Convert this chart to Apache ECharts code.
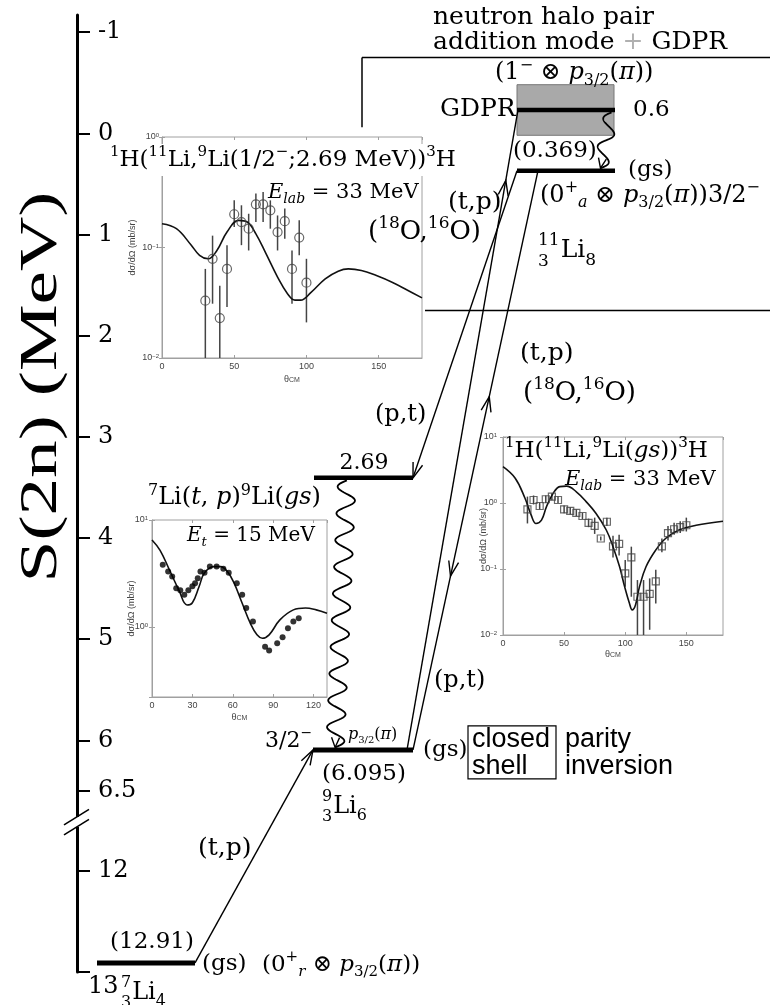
<!DOCTYPE html>
<html>
<head>
<meta charset="utf-8">
<title>S(2n) level scheme: 7Li, 9Li, 11Li</title>
<script src="https://cdn.jsdelivr.net/npm/echarts@6.0.0/dist/echarts.min.js"></script>
<style>
  html, body { margin: 0; padding: 0; background: #fff; }
  #chart { width: 770px; height: 1005px; }
</style>
</head>
<body>
<div id="chart"></div>
<script>
const SERIF = '"DejaVu Serif", serif';
const TITLE_SERIF = '"Liberation Serif", serif';
const SANS = '"Liberation Sans", Arial, sans-serif';

// ---------------- S(2n) axis ----------------
const axisTicks = [-1, 0, 1, 2, 3, 4, 5, 6, 6.5, 12, 13];
const axisTickLabels = ['-1', '0', '1', '2', '3', '4', '5', '6', '6.5', '12', '13'];

// ---------------- levels, S(2n) in MeV ----------------
const levelNames = ['li7', 'li9', 'li9x', 'li11', 'gdpr'];
const levelS2n = [12.91, 6.095, 3.405, 0.369, -0.231];   // 3.405 = 6.095 - 2.69, -0.231 = 0.369 - 0.6
const gdprWidth = 0.5;

// ---------------- 1H(11Li,9Li(1/2-;2.69 MeV))3H ----------------
const thetaA = [0, 10, 20, 26, 32, 38, 45, 53, 59, 65, 72, 80, 87, 92, 96, 103, 113, 122, 129, 138, 148, 160, 170, 180];
const sigmaA = [0.164, 0.148, 0.106, 0.085, 0.079, 0.094, 0.138, 0.176, 0.170, 0.133, 0.088, 0.054, 0.038, 0.0334, 0.0334, 0.039, 0.052, 0.061, 0.064, 0.062, 0.056, 0.048, 0.041, 0.035];
const thetaAexp = [30, 35, 40, 45, 50, 55, 60, 65, 70, 75, 80, 85, 90, 95, 100];
const sigmaAexp = [0.033, 0.079, 0.023, 0.064, 0.200, 0.170, 0.148, 0.246, 0.246, 0.217, 0.138, 0.173, 0.064, 0.123, 0.048];
const sigmaAlo  = [0.005, 0.031, 0.005, 0.029, 0.153, 0.105, 0.094, 0.170, 0.170, 0.148, 0.094, 0.120, 0.031, 0.085, 0.021];
const sigmaAhi  = [0.064, 0.128, 0.045, 0.105, 0.267, 0.241, 0.202, 0.308, 0.318, 0.267, 0.195, 0.225, 0.094, 0.176, 0.079];

// ---------------- 7Li(t,p)9Li(gs) ----------------
const thetaB = [0, 6, 13, 20, 26, 30, 35, 39, 46, 51, 56, 61, 67, 73, 78, 82, 87, 95, 105, 114, 122, 130];
const sigmaB = [6.5, 5.2, 3.4, 2.2, 1.6, 1.68, 2.38, 3.2, 3.66, 3.66, 3.29, 2.56, 1.66, 1.08, 0.84, 0.78, 0.84, 1.16, 1.44, 1.50, 1.44, 1.34];
const thetaBexp = [8, 12, 15, 18, 21, 24, 27, 30, 32, 34, 36, 39, 43, 48, 53, 57, 63, 67, 70, 75, 84, 87, 93, 97, 101, 105, 109];
const sigmaBexp = [3.8, 3.3, 2.95, 2.3, 2.2, 2.0, 2.2, 2.4, 2.56, 2.85, 3.3, 3.2, 3.66, 3.66, 3.5, 3.2, 2.56, 2.0, 1.5, 1.12, 0.65, 0.6, 0.7, 0.8, 0.97, 1.12, 1.2];

// ---------------- 1H(11Li,9Li(gs))3H ----------------
const thetaC = [0, 10, 18, 23, 27, 31.5, 35.6, 41, 46.5, 52, 60, 68, 76, 84.5, 90, 95.4, 99.5, 103.5, 105.7, 108.4, 111.7, 117, 125, 133, 144, 158, 180];
const sigmaC = [3.55, 2.37, 1.18, 0.66, 0.49, 0.55, 0.88, 1.40, 1.77, 1.80, 1.48, 1.05, 0.70, 0.39, 0.218, 0.108, 0.054, 0.030, 0.024, 0.0285, 0.054, 0.108, 0.194, 0.29, 0.39, 0.46, 0.53];
const thetaCexp = [20, 25, 30, 35, 40, 45, 50, 55, 60, 65, 70, 75, 80, 85, 90, 95, 100, 105, 110, 115, 120, 125, 130, 135, 140, 145, 150];
const sigmaCexp = [0.80, 1.11, 0.90, 1.14, 1.25, 1.11, 0.80, 0.76, 0.71, 0.635, 0.50, 0.45, 0.29, 0.52, 0.22, 0.24, 0.086, 0.15, 0.038, 0.038, 0.042, 0.065, 0.22, 0.35, 0.40, 0.43, 0.46];
const sigmaClo  = [0.49, 0.95, 0.80, 1.00, 1.10, 1.00, 0.70, 0.67, 0.63, 0.57, 0.43, 0.34, 0.27, 0.45, 0.15, 0.16, 0.054, 0.038, 0.005, 0.005, 0.012, 0.030, 0.18, 0.27, 0.33, 0.35, 0.37];
const sigmaChi  = [1.25, 1.30, 1.02, 1.30, 1.40, 1.25, 0.92, 0.86, 0.80, 0.71, 0.58, 0.60, 0.31, 0.60, 0.32, 0.33, 0.137, 0.218, 0.068, 0.068, 0.072, 0.097, 0.29, 0.45, 0.50, 0.53, 0.60];

// ================= layout =================
// broken S(2n) scale: 6.5 MeV is followed directly by 12 MeV
const BREAK_LO = 6.5, BREAK_HI = 12, BREAK_GAP = 0.79;
function sAxis(v) { return v >= BREAK_HI ? v - BREAK_HI + BREAK_LO + BREAK_GAP : v; }
const Y_MIN = -1.17, Y_MAX = sAxis(13);

const E = name => levelS2n[levelNames.indexOf(name)];
const LEVEL_X = { li7: [97, 195], li9: [313, 413], li9x: [314, 413], li11: [517, 615], gdpr: [517, 615] };
const LEVEL_W = { li7: 5, li9: 5, li9x: 4.5, li11: 4.5, gdpr: 4.5 };

// straight transitions; arrows = [fraction along the line, +1 towards end / -1 towards start]
const TRANSITIONS = [
  { from: 'li7',  x1: 195, to: 'li9',  x2: 313, arrows: [[1, 1]] },
  { from: 'li9',  x1: 407, to: 'gdpr', x2: 518, arrows: [[0.89, 1]] },
  { from: 'li9',  x1: 413, to: 'li11', x2: 538, arrows: [[0.61, 1], [0.30, -1]] },
  { from: 'li11', x1: 517, to: 'li9x', x2: 413, arrows: [[1, 1]] }
];
// gamma decays (wavy arrows)
const WAVES = [
  { from: 'gdpr', x1: 612, to: 'li11', x2: 600, amp: 7, cycles: 2 },
  { from: 'li9x', x1: 347, to: 'li9',  x2: 335, amp: 9, cycles: 10 }
];
// frame round the 11Li part of the scheme
const REGION_SEGMENTS = [
  [362, -0.75, 770, -0.75],
  [362, -0.75, 362, -0.06],
  [425, 1.75, 770, 1.75]
];

function arrowHead(a, b, f, dir, len, half, width) {
  const dx = b[0] - a[0], dy = b[1] - a[1], L = Math.hypot(dx, dy);
  const ux = dir * dx / L, uy = dir * dy / L;
  const tx = a[0] + f * dx, ty = a[1] + f * dy;
  const bx = tx - len * ux, by = ty - len * uy;
  const nx = -uy, ny = ux;
  return {
    type: 'polyline',
    shape: { points: [[bx + half * nx, by + half * ny], [tx, ty], [bx - half * nx, by - half * ny]] },
    style: { stroke: '#000', lineWidth: width, fill: null }
  };
}

function segmentRender(width) {
  return function (params, api) {
    const a = api.coord([api.value(0), api.value(1)]);
    const b = api.coord([api.value(2), api.value(3)]);
    return { type: 'line', shape: { x1: a[0], y1: a[1], x2: b[0], y2: b[1] }, style: { stroke: '#000', lineWidth: width } };
  };
}

function errRender(color) {
  return function (params, api) {
    const cs = params.coordSys;
    const x = api.value(0);
    const lo = api.coord([x, api.value(1)]);
    const hi = api.coord([x, api.value(2)]);
    const clamp = y => Math.min(Math.max(y, cs.y), cs.y + cs.height);
    return { type: 'line', shape: { x1: lo[0], y1: clamp(lo[1]), x2: hi[0], y2: clamp(hi[1]) }, style: { stroke: color, lineWidth: 1.5 } };
  };
}

const zip = (xs, ys) => xs.map((x, i) => [x, ys[i]]);
const zip3 = (xs, a, b) => xs.map((x, i) => [x, a[i], b[i]]);

function logLabel(v) {
  const e = Math.round(Math.log10(v));
  return '10{e|' + String(e).replace('-', '\u2212') + '}';
}

const insetGrid = (left, top, width, height) => ({
  left, top, width, height, show: true, backgroundColor: '#fff',
  borderColor: '#a0a0a0', borderWidth: 1, outerBoundsMode: 'none'
});

function insetX(gi, max, interval, margin, nameGap) {
  return {
    type: 'value', gridIndex: gi, min: 0, max, interval, position: 'bottom',
    axisLine: { show: true, onZero: false, lineStyle: { color: '#a0a0a0', width: 1 } },
    axisTick: { show: true, inside: true, length: 3, lineStyle: { color: '#a0a0a0' } },
    axisLabel: { show: true, fontSize: 9, color: '#444', fontFamily: SANS, margin, showMaxLabel: false, showMinLabel: true },
    splitLine: { show: false },
    name: '\u03b8{s|CM}', nameLocation: 'middle', nameGap, nameMoveOverlap: false,
    nameTextStyle: { fontSize: 9, color: '#444', fontFamily: SANS, rich: { s: { fontSize: 7, fontFamily: SANS, color: '#444', verticalAlign: 'bottom', lineHeight: 6 } } }
  };
}
function insetXTop(gi, max, interval) {
  return {
    type: 'value', gridIndex: gi, min: 0, max, interval, position: 'top',
    axisLine: { show: false }, axisLabel: { show: false }, splitLine: { show: false },
    axisTick: { show: true, inside: true, length: 3, lineStyle: { color: '#a0a0a0' } }
  };
}
function insetY(gi, min, max, margin, nameGap, showMin) {
  return {
    type: 'log', logBase: 10, gridIndex: gi, min, max, position: 'left',
    axisLine: { show: true, onZero: false, lineStyle: { color: '#a0a0a0', width: 1 } },
    axisTick: { show: true, inside: true, length: 3, lineStyle: { color: '#a0a0a0' } },
    axisLabel: {
      show: true, fontSize: 9, color: '#444', fontFamily: SANS, margin, showMinLabel: showMin,
      formatter: logLabel,
      rich: { e: { fontSize: 6, fontFamily: SANS, color: '#444', verticalAlign: 'top', lineHeight: 6 } }
    },
    splitLine: { show: false },
    name: 'd\u03c3/d\u03a9 (mb/sr)', nameLocation: 'middle', nameGap, nameRotate: 90, nameMoveOverlap: false,
    nameTextStyle: { fontSize: 9, color: '#444', fontFamily: SANS }
  };
}
function insetYRight(gi, min, max) {
  return {
    type: 'log', logBase: 10, gridIndex: gi, min, max, position: 'right',
    axisLine: { show: false }, axisLabel: { show: false }, splitLine: { show: false },
    axisTick: { show: true, inside: true, length: 3, lineStyle: { color: '#a0a0a0' } }
  };
}

const chart = echarts.init(document.getElementById('chart'), null, { renderer: 'canvas' });

const option = {
  animation: false,
  backgroundColor: '#fff',
  grid: [
    { left: 77, right: 0, top: 15, bottom: 33, outerBoundsMode: 'none' },
    insetGrid(162, 137, 260, 221),
    insetGrid(152, 520, 175, 177),
    insetGrid(503, 437, 220, 198)
  ],
  xAxis: [
    { type: 'value', gridIndex: 0, min: 77, max: 770, show: false },
    insetX(1, 180, 50, 4, 17),
    insetX(2, 130, 30, 4, 16),
    insetX(3, 180, 50, 4, 15),
    insetXTop(1, 180, 50),
    insetXTop(2, 130, 30),
    insetXTop(3, 180, 50)
  ],
  yAxis: [
    {
      type: 'value', gridIndex: 0, inverse: true, min: Y_MIN, max: Y_MAX, position: 'left',
      axisLine: { show: true, onZero: false, lineStyle: { color: '#000', width: 3 } },
      axisTick: { show: true, inside: true, length: 13, lineStyle: { color: '#000', width: 2 },
        customValues: axisTicks.map(sAxis) },
      axisLabel: {
        show: true, inside: true, margin: 21, fontFamily: SERIF, fontSize: 24, color: '#000',
        customValues: axisTicks.filter(t => t !== 13).map(sAxis),
        formatter: function (v) {
          const i = axisTicks.findIndex(t => Math.abs(sAxis(t) - v) < 1e-6);
          return i >= 0 ? axisTickLabels[i] : '';
        }
      },
      splitLine: { show: false }
    },
    insetY(1, 0.01, 1, 3, 25, true),
    insetY(2, 0.22, 10, 4, 16, false),
    insetY(3, 0.01, 10, 6, 15, true),
    insetYRight(1, 0.01, 1),
    insetYRight(2, 0.22, 10),
    insetYRight(3, 0.01, 10)
  ],
  series: [
    // 11Li frame
    {
      type: 'custom', name: 'frame', xAxisIndex: 0, yAxisIndex: 0, z: 2,
      data: REGION_SEGMENTS, encode: { x: [0, 2], y: [1, 3] },
      renderItem: segmentRender(1.5)
    },
    // GDPR strength box
    {
      type: 'custom', name: 'GDPR width', xAxisIndex: 0, yAxisIndex: 0, z: 2,
      data: [[517, sAxis(E('gdpr') - gdprWidth / 2), 614, sAxis(E('gdpr') + gdprWidth / 2)]],
      encode: { x: [0, 2], y: [1, 3] },
      renderItem: function (params, api) {
        const a = api.coord([api.value(0), api.value(1)]);
        const b = api.coord([api.value(2), api.value(3)]);
        return { type: 'rect', shape: { x: a[0], y: a[1], width: b[0] - a[0], height: b[1] - a[1] },
          style: { fill: '#a9a9a9', stroke: '#777', lineWidth: 1 } };
      }
    },
    // levels
    {
      type: 'custom', name: 'levels', xAxisIndex: 0, yAxisIndex: 0, z: 4,
      data: levelNames.map(n => [LEVEL_X[n][0], sAxis(E(n)), LEVEL_X[n][1], sAxis(E(n)), LEVEL_W[n]]),
      encode: { x: [0, 2], y: [1, 3] },
      renderItem: function (params, api) {
        const a = api.coord([api.value(0), api.value(1)]);
        const b = api.coord([api.value(2), api.value(3)]);
        return { type: 'line', shape: { x1: a[0], y1: a[1], x2: b[0], y2: b[1] },
          style: { stroke: '#000', lineWidth: api.value(4) } };
      }
    },
    // gamma decays
    {
      type: 'custom', name: 'decays', xAxisIndex: 0, yAxisIndex: 0, z: 3,
      data: WAVES.map(w => [w.x1, sAxis(E(w.from)), w.x2, sAxis(E(w.to))]),
      encode: { x: [0, 2], y: [1, 3] },
      renderItem: function (params, api) {
        const w = WAVES[params.dataIndex];
        const a0 = api.coord([api.value(0), api.value(1)]);
        const b0 = api.coord([api.value(2), api.value(3)]);
        const dx = b0[0] - a0[0], dy = b0[1] - a0[1], L = Math.hypot(dx, dy);
        const ux = dx / L, uy = dy / L;
        const a = [a0[0] + 2.5 * ux, a0[1] + 2.5 * uy];
        const b = [b0[0] - 2.5 * ux, b0[1] - 2.5 * uy];
        const nx = -uy, ny = ux;
        const pts = [];
        const N = 240;
        for (let i = 0; i <= N; i++) {
          const t = i / N;
          const off = w.amp * Math.sin(2 * Math.PI * w.cycles * t);
          pts.push([a[0] + t * (b[0] - a[0]) + off * nx, a[1] + t * (b[1] - a[1]) + off * ny]);
        }
        return { type: 'group', children: [
          { type: 'polyline', shape: { points: pts }, style: { stroke: '#000', lineWidth: 1.8, fill: null } },
          arrowHead(a, b, 1, 1, 10, 4, 1.4)
        ] };
      }
    },
    // two-neutron transfer transitions
    {
      type: 'custom', name: 'transfer', xAxisIndex: 0, yAxisIndex: 0, z: 3,
      data: TRANSITIONS.map(t => [t.x1, sAxis(E(t.from)), t.x2, sAxis(E(t.to))]),
      encode: { x: [0, 2], y: [1, 3] },
      renderItem: function (params, api) {
        const t = TRANSITIONS[params.dataIndex];
        const a = api.coord([api.value(0), api.value(1)]);
        const b = api.coord([api.value(2), api.value(3)]);
        const children = [{ type: 'line', shape: { x1: a[0], y1: a[1], x2: b[0], y2: b[1] },
          style: { stroke: '#000', lineWidth: 1.4 } }];
        t.arrows.forEach(([f, dir]) => children.push(arrowHead(a, b, f, dir, 15, 5, 1.4)));
        return { type: 'group', children };
      }
    },
    // inset: 1H(11Li,9Li(1/2-))3H
    { type: 'line', name: 'calc A', xAxisIndex: 1, yAxisIndex: 1, data: zip(thetaA, sigmaA), smooth: 0.4,
      symbol: 'none', lineStyle: { color: '#111', width: 1.6 }, z: 5 },
    { type: 'custom', name: 'err A', xAxisIndex: 1, yAxisIndex: 1, data: zip3(thetaAexp, sigmaAlo, sigmaAhi),
      encode: { x: 0, y: [1, 2] }, renderItem: errRender('#444'), z: 5 },
    { type: 'scatter', name: 'exp A', xAxisIndex: 1, yAxisIndex: 1, data: zip(thetaAexp, sigmaAexp),
      symbol: 'circle', symbolSize: 9, itemStyle: { color: 'rgba(0,0,0,0)', borderColor: '#444', borderWidth: 1.2 }, z: 6 },
    // inset: 7Li(t,p)9Li(gs)
    { type: 'line', name: 'calc B', xAxisIndex: 2, yAxisIndex: 2, data: zip(thetaB, sigmaB), smooth: 0.4,
      symbol: 'none', lineStyle: { color: '#111', width: 1.6 }, z: 5 },
    { type: 'scatter', name: 'exp B', xAxisIndex: 2, yAxisIndex: 2, data: zip(thetaBexp, sigmaBexp),
      symbol: 'circle', symbolSize: 6, itemStyle: { color: '#000' }, z: 6 },
    // inset: 1H(11Li,9Li(gs))3H
    { type: 'line', name: 'calc C', xAxisIndex: 3, yAxisIndex: 3, data: zip(thetaC, sigmaC), smooth: 0.4,
      symbol: 'none', lineStyle: { color: '#111', width: 1.6 }, z: 5 },
    { type: 'custom', name: 'err C', xAxisIndex: 3, yAxisIndex: 3, data: zip3(thetaCexp, sigmaClo, sigmaChi),
      encode: { x: 0, y: [1, 2] }, renderItem: errRender('#444'), z: 5 },
    { type: 'scatter', name: 'exp C', xAxisIndex: 3, yAxisIndex: 3, data: zip(thetaCexp, sigmaCexp),
      symbol: 'rect', symbolSize: 7, itemStyle: { color: 'rgba(0,0,0,0)', borderColor: '#444', borderWidth: 1.2 }, z: 6 }
  ]
};

chart.setOption(option);

// ================= annotations =================
const measureCtx = document.createElement('canvas').getContext('2d');
function textWidth(str, size, family, style) {
  measureCtx.font = (style ? style + ' ' : '') + size + 'px ' + family;
  return measureCtx.measureText(str).width;
}
function rich(size, fam) {
  fam = fam || SERIF;
  const s = Math.round(size * 0.65), lh = Math.round(size * 0.55);
  return {
    sup: { fontSize: s, fontFamily: fam, verticalAlign: 'top', lineHeight: lh, fill: '#000' },
    sub: { fontSize: s, fontFamily: fam, verticalAlign: 'bottom', lineHeight: lh, fill: '#000' },
    it: { fontSize: size, fontFamily: fam, fontStyle: 'italic', fill: '#000' },
    itsub: { fontSize: s, fontFamily: fam, fontStyle: 'italic', verticalAlign: 'bottom', lineHeight: lh, fill: '#000' },
    g: { fontSize: size, fontFamily: fam, fill: '#b0b0b0' }
  };
}
function T(x, y, text, size, styleExtra, elExtra) {
  return Object.assign({
    type: 'text', z: 50,
    style: Object.assign({
      x, y, text, fontSize: size, fontFamily: SERIF, fill: '#000',
      align: 'left', verticalAlign: 'middle', lineHeight: Math.round(size * 1.3),
      rich: rich(size)
    }, styleExtra || {})
  }, elExtra || {});
}
// nucleus symbol with stacked mass / charge numbers and neutron number
function nuclide(x, yc, A, Z, sym, N, size) {
  const small = Math.round(size * 0.68);
  const pre = Math.max(textWidth(A, small, SERIF), textWidth(Z, small, SERIF));
  const wSym = textWidth(sym, size, SERIF);
  return [
    T(x, yc - 0.42 * size, A, small),
    T(x, yc + 0.42 * size, Z, small),
    T(x + pre + 1, yc, sym, size),
    T(x + pre + 1 + wSym, yc + 0.38 * size, N, small)
  ];
}

const yOf = E => chart.convertToPixel({ gridIndex: 0 }, [100, sAxis(E)])[1];
const y7 = yOf(E('li7')), y9 = yOf(E('li9')), y9x = yOf(E('li9x')), y11 = yOf(E('li11')), yG = yOf(E('gdpr'));
const y13 = yOf(13), y65 = yOf(6.5);

const PT = '{it|p}{sub|3/2}({it|\u03c0})';
const graphics = [
  // axis title
  { type: 'text', x: 42, y: 387, rotation: Math.PI / 2, scaleX: 1.42, z: 50,
    style: { text: 'S(2n) (MeV)', fontSize: 53, fontFamily: TITLE_SERIF, fill: '#000', align: 'center', verticalAlign: 'middle' } },
  // axis break
  { type: 'rect', z: 40, shape: { x: 72, y: y65 + 26, width: 10, height: 10 }, style: { fill: '#fff' } },
  { type: 'line', z: 41, shape: { x1: 64, y1: y65 + 34, x2: 89, y2: y65 + 18.5 }, style: { stroke: '#000', lineWidth: 1.6 } },
  { type: 'line', z: 41, shape: { x1: 64, y1: y65 + 44, x2: 89, y2: y65 + 28.5 }, style: { stroke: '#000', lineWidth: 1.6 } },
  T(88, y13 + 15, '13', 24),

  // 7Li
  T(152, y7 - 21, '(12.91)', 23, { align: 'center' }),
  T(202, y7 + 1, '(gs)', 23),
  T(262, y7 + 2, '(0{sup|+}{itsub|r} \u2297 ' + PT + ')', 23),
  ...nuclide(121, y7 + 30, '7', '3', 'Li', '4', 24),
  T(198, 848, '(t,p)', 25),

  // 9Li
  T(364, y9 + 24, '(6.095)', 23, { align: 'center' }),
  ...nuclide(322, y9 + 57, '9', '3', 'Li', '6', 24),
  T(265, y9 - 9, '3/2{sup|\u2212}', 22),
  T(348, y9 - 15, PT, 16),
  T(423, y9, '(gs)', 23),
  { type: 'rect', z: 50, shape: { x: 468, y: y9 - 24, width: 88, height: 53 }, style: { fill: null, stroke: '#000', lineWidth: 1.2 } },
  T(472, y9 + 3, 'closed\nshell', 27, { fontFamily: SANS, lineHeight: 27, rich: {} }),
  T(565, y9 + 3, 'parity\ninversion', 27, { fontFamily: SANS, lineHeight: 27, rich: {} }),
  T(364, y9x - 15, '2.69', 22, { align: 'center' }),
  T(375, 415, '(p,t)', 24),
  T(434, 681, '(p,t)', 24),
  T(520, 353, '(t,p)', 25),
  T(523, 393, '({sup|18}O,{sup|16}O)', 26),

  // 11Li
  T(513, y11 - 20, '(0.369)', 23),
  T(628, y11 - 1, '(gs)', 23),
  T(540, y11 + 25, '(0{sup|+}{itsub|a} \u2297 ' + PT + ')3/2{sup|\u2212}', 24),
  ...nuclide(538, y11 + 80, '11', '3', 'Li', '8', 25),
  T(440, yG, 'GDPR', 25),
  T(633, yG, '0.6', 23),
  T(495, yG - 37, '(1{sup|\u2212} \u2297 ' + PT + ')', 24),
  T(448, 202, '(t,p)', 25),
  T(368, 232, '({sup|18}O,{sup|16}O)', 26),
  T(433, 17, 'neutron halo pair', 25),
  T(433, 42, 'addition mode {g|+} GDPR', 25),

  // inset titles
  T(110, 160, '{sup|1}H({sup|11}Li,{sup|9}Li(1/2{sup|\u2212};2.69 MeV)){sup|3}H', 23, { backgroundColor: '#fff', padding: [1, 0, 1, 0] }),
  T(268, 193, '{it|E}{itsub|lab} = 33 MeV', 21),
  T(148, 498, '{sup|7}Li({it|t}, {it|p}){sup|9}Li({it|gs})', 24),
  T(187, 536, '{it|E}{itsub|t} = 15 MeV', 20),
  T(505, 451, '{sup|1}H({sup|11}Li,{sup|9}Li({it|gs})){sup|3}H', 23),
  T(565, 480, '{it|E}{itsub|lab} = 33 MeV', 21)
];

chart.setOption({ graphic: graphics });
</script>
</body>
</html>
